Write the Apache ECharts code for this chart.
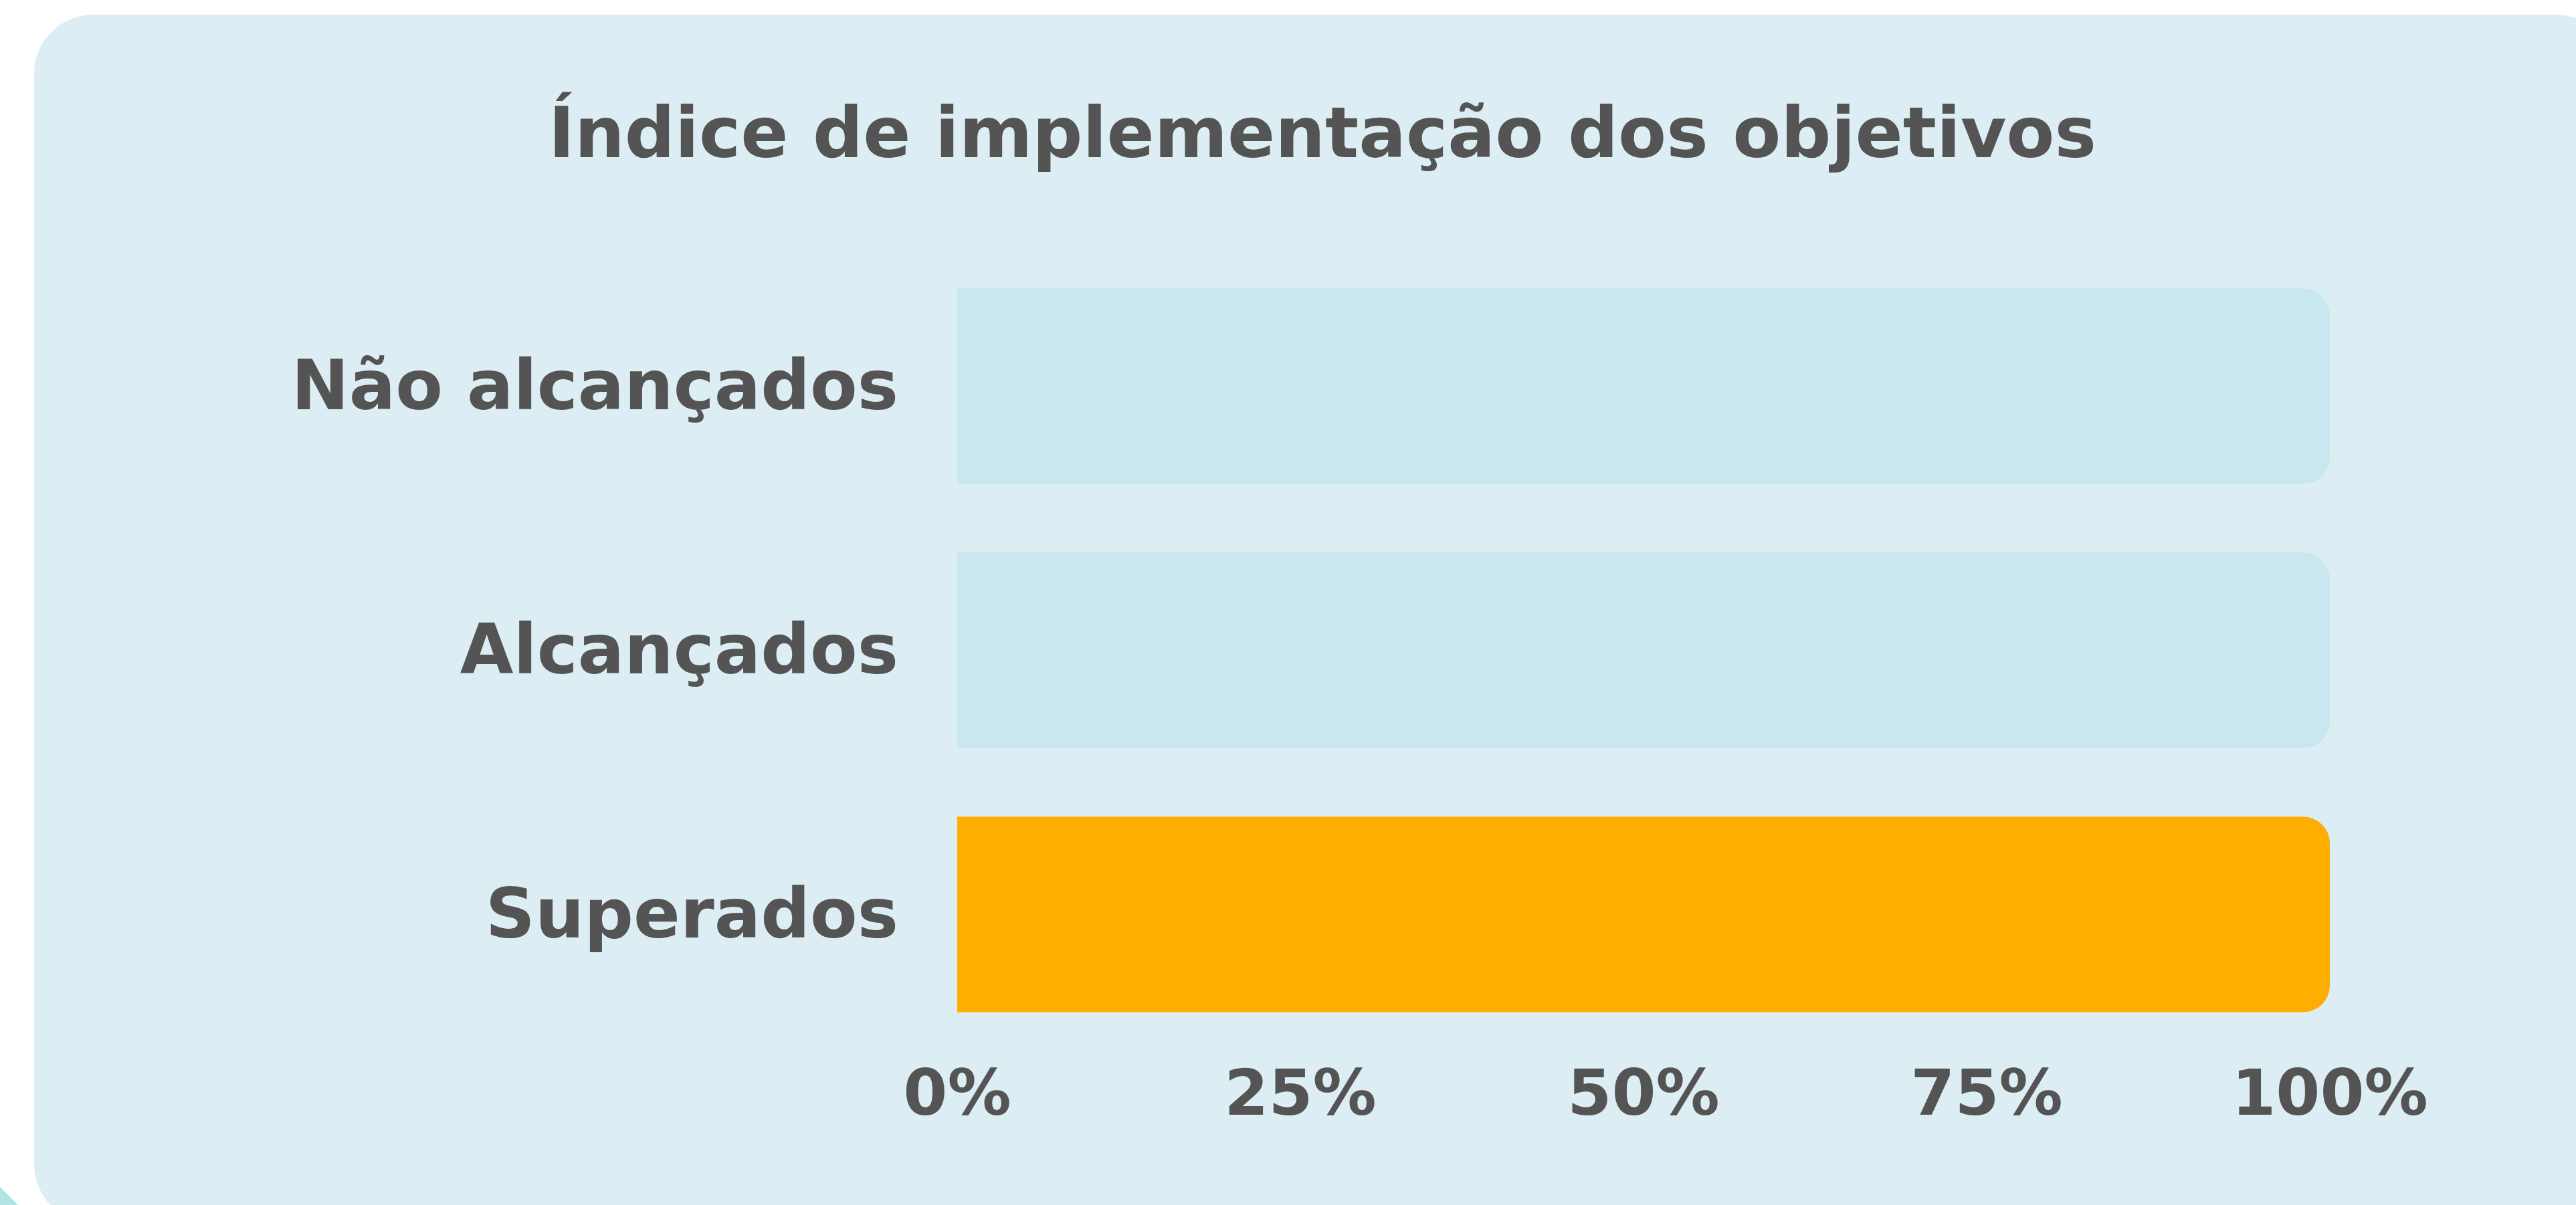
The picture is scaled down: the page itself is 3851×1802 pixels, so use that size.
<!DOCTYPE html>
<html>
<head>
<meta charset="utf-8">
<script src="https://cdn.jsdelivr.net/npm/echarts@6/dist/echarts.min.js"></script>
<style>
html,body{margin:0;padding:0;background:#ffffff;}
#chart{width:3851px;height:1802px;}
</style>
</head>
<body>
<div id="chart"></div>
<script>
const titleText = 'Índice de implementação dos objetivos';
const categories = ['Não alcançados', 'Alcançados', 'Superados'];
const values = [0, 0, 100];
const tickValues = [0, 25, 50, 75, 100];

const FONT = 'DejaVu Sans';
const TEXT = '#545454';

const chart = echarts.init(document.getElementById('chart'), null, {renderer: 'canvas'});
chart.setOption({
  backgroundColor: '#ffffff',
  animation: false,
  graphic: [
    {type: 'polygon', z: -10, shape: {points: [[0, 1775], [28, 1803], [0, 1803]]}, style: {fill: '#B2E3E3'}},
    {type: 'rect', z: -10, shape: {x: 51, y: 22, width: 3859, height: 1807, r: 88}, style: {fill: '#DCEEF4'}}
  ],
  title: {
    text: titleText,
    left: 1972,
    textAlign: 'center',
    top: 150,
    textStyle: {fontFamily: FONT, fontWeight: 'bold', fontSize: 105, color: TEXT}
  },
  grid: {left: 1431, right: 368, top: 380, bottom: 237, containLabel: false},
  xAxis: {
    type: 'value',
    min: tickValues[0],
    max: tickValues[tickValues.length - 1],
    interval: 25,
    axisLine: {show: false},
    axisTick: {show: false},
    splitLine: {show: false},
    axisLabel: {
      formatter: '{value}%',
      margin: 30,
      fontFamily: FONT, fontWeight: 'bold', fontSize: 95, color: TEXT
    }
  },
  yAxis: {
    type: 'category',
    inverse: true,
    data: categories,
    axisLine: {show: false},
    axisTick: {show: false},
    splitLine: {show: false},
    axisLabel: {
      margin: 88,
      formatter: '{a|{value}}',
      rich: {
        a: {padding: [16, 0, 0, 0], fontFamily: FONT, fontWeight: 'bold', fontSize: 103, color: TEXT}
      },
      fontFamily: FONT, fontWeight: 'bold', fontSize: 103, color: TEXT
    }
  },
  series: [{
    type: 'bar',
    data: values,
    barCategoryGap: '26%',
    showBackground: true,
    backgroundStyle: {color: '#C8E7EF', borderRadius: [0, 40, 40, 0]},
    itemStyle: {color: '#FFAD00', borderRadius: [0, 40, 40, 0]}
  }]
});
</script>
</body>
</html>
